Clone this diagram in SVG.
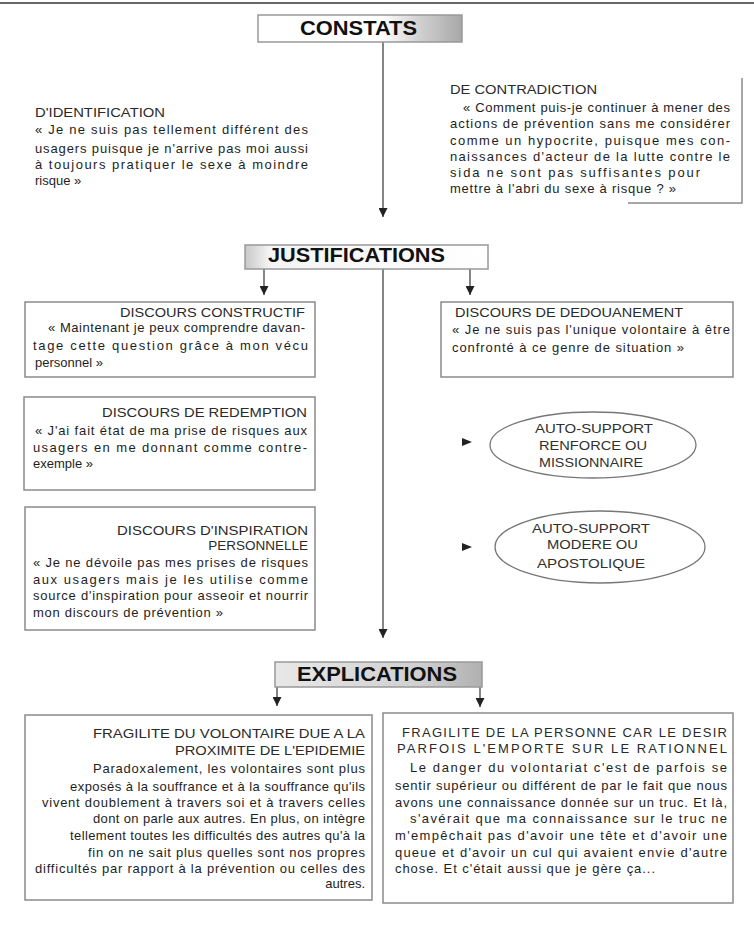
<svg xmlns="http://www.w3.org/2000/svg" width="754" height="926" viewBox="0 0 754 926">
<defs>
<style>
.t{font-family:"Liberation Sans",Arial,sans-serif;font-size:13px;fill:#1e1e1e}
.h{font-family:"Liberation Sans",Arial,sans-serif;font-size:13px;fill:#2a2a2a}
.e{font-family:"Liberation Sans",Arial,sans-serif;font-size:13.5px;fill:#303030}
.big{font-family:"Liberation Sans",Arial,sans-serif;font-weight:bold;font-size:20px;fill:#111}
.box{fill:#fff;stroke:#8a8a8a;stroke-width:1.5}
.ell{fill:none;stroke:#777;stroke-width:1.3}
.con{stroke:#666;stroke-width:1.6;fill:none}
.ah{fill:#222}
</style>
<linearGradient id="gC" x1="0" y1="0" x2="1" y2="0">
<stop offset="0" stop-color="#fff"/><stop offset="0.6" stop-color="#fff"/><stop offset="0.8" stop-color="#cfcfcf"/><stop offset="1" stop-color="#a8a8a8"/>
</linearGradient>
<linearGradient id="gJ" x1="0" y1="0" x2="1" y2="0">
<stop offset="0" stop-color="#c8c8c8"/><stop offset="0.1" stop-color="#f4f4f4"/><stop offset="1" stop-color="#fff"/>
</linearGradient>
<linearGradient id="gE" x1="0" y1="0" x2="1" y2="0">
<stop offset="0" stop-color="#e8e8e8"/><stop offset="0.7" stop-color="#d0d0d0"/><stop offset="1" stop-color="#b0b0b0"/>
</linearGradient>
<marker id="arr" viewBox="0 0 10 10" refX="10" refY="5" markerWidth="9" markerHeight="9" markerUnits="userSpaceOnUse" orient="auto">
<path d="M0,0 L10,5 L0,10 z" fill="#222"/>
</marker>
</defs>
<rect width="754" height="926" fill="#fff"/>
<line x1="0" y1="3" x2="754" y2="3" stroke="#333" stroke-width="1.5"/>

<g id="connectors">
<line class="con" x1="383" y1="42" x2="383" y2="217" marker-end="url(#arr)"/>
<line class="con" x1="264" y1="269" x2="264" y2="295" marker-end="url(#arr)"/>
<line class="con" x1="470" y1="269" x2="470" y2="295" marker-end="url(#arr)"/>
<line class="con" x1="383" y1="269" x2="383" y2="638" marker-end="url(#arr)"/>
<line class="con" x1="277" y1="687" x2="277" y2="706" marker-end="url(#arr)"/>
<line class="con" x1="480" y1="687" x2="480" y2="707" marker-end="url(#arr)"/>
<path class="ah" d="M462,438 L472,442 L462,446 z"/>
<path class="ah" d="M462,543 L472,547 L462,551 z"/>
</g>

<g id="constats">
<rect x="258" y="15" width="204" height="27" fill="url(#gC)" stroke="#999" stroke-width="1.5"/>
<text class="big" x="300" y="35" textLength="117" lengthAdjust="spacingAndGlyphs">CONSTATS</text>
</g>

<g id="identification">
<text class="h" x="35" y="117" textLength="130" lengthAdjust="spacingAndGlyphs">D'IDENTIFICATION</text>
<text class="t" x="35" y="134" textLength="273" lengthAdjust="spacing">« Je ne suis pas tellement différent des</text>
<text class="t" x="35" y="153" textLength="273" lengthAdjust="spacing">usagers puisque je n'arrive pas moi aussi</text>
<text class="t" x="35" y="169" textLength="273" lengthAdjust="spacing">à toujours pratiquer le sexe à moindre</text>
<text class="t" x="35" y="185">risque »</text>
</g>

<g id="contradiction">
<polyline points="742,78 742,203 628,203" fill="none" stroke="#8a8a8a" stroke-width="1.5"/>
<text class="h" x="450" y="94" textLength="147" lengthAdjust="spacingAndGlyphs">DE CONTRADICTION</text>
<text class="t" x="463" y="112" textLength="267" lengthAdjust="spacing">« Comment puis-je continuer à mener des</text>
<text class="t" x="450" y="128" textLength="280" lengthAdjust="spacing">actions de prévention sans me considérer</text>
<text class="t" x="450" y="145" textLength="280" lengthAdjust="spacing">comme un hypocrite, puisque mes con-</text>
<text class="t" x="450" y="161" textLength="280" lengthAdjust="spacing">naissances d'acteur de la lutte contre le</text>
<text class="t" x="450" y="177" textLength="250" lengthAdjust="spacing">sida ne sont pas suffisantes pour</text>
<text class="t" x="450" y="193" textLength="226" lengthAdjust="spacing">mettre à l'abri du sexe à risque ? »</text>
</g>

<g id="justifications">
<rect x="245" y="245" width="243" height="24" fill="url(#gJ)" stroke="#999" stroke-width="1.5"/>
<text class="big" x="268" y="262" textLength="177" lengthAdjust="spacingAndGlyphs">JUSTIFICATIONS</text>
</g>

<g id="constructif">
<rect class="box" x="25" y="302" width="290" height="75"/>
<text class="h" x="120" y="317" textLength="185" lengthAdjust="spacingAndGlyphs">DISCOURS CONSTRUCTIF</text>
<text class="t" x="48" y="332" textLength="257" lengthAdjust="spacing">« Maintenant je peux comprendre davan-</text>
<text class="t" x="33" y="350" textLength="275" lengthAdjust="spacing">tage cette question grâce à mon vécu</text>
<text class="t" x="35" y="367">personnel »</text>
</g>

<g id="dedouanement">
<rect class="box" x="441" y="302" width="292" height="75"/>
<text class="h" x="455" y="317" textLength="228" lengthAdjust="spacingAndGlyphs">DISCOURS DE DEDOUANEMENT</text>
<text class="t" x="452" y="334" textLength="278" lengthAdjust="spacing">« Je ne suis pas l'unique volontaire à être</text>
<text class="t" x="452" y="352" textLength="232" lengthAdjust="spacing">confronté à ce genre de situation »</text>
</g>

<g id="redemption">
<rect class="box" x="24" y="397" width="291" height="93"/>
<text class="h" x="102" y="417" textLength="205" lengthAdjust="spacingAndGlyphs">DISCOURS DE REDEMPTION</text>
<text class="t" x="35" y="435" textLength="272" lengthAdjust="spacing">« J'ai fait état de ma prise de risques aux</text>
<text class="t" x="33" y="452" textLength="274" lengthAdjust="spacing">usagers en me donnant comme contre-</text>
<text class="t" x="33" y="468">exemple »</text>
</g>

<g id="inspiration">
<rect class="box" x="25" y="507" width="290" height="123"/>
<text class="h" x="117" y="535" textLength="191" lengthAdjust="spacingAndGlyphs">DISCOURS D'INSPIRATION</text>
<text class="h" x="308" y="550" text-anchor="end" style="font-size:13.5px">PERSONNELLE</text>
<text class="t" x="33" y="567" textLength="275" lengthAdjust="spacing">« Je ne dévoile pas mes prises de risques</text>
<text class="t" x="33" y="584" textLength="275" lengthAdjust="spacing">aux usagers mais je les utilise comme</text>
<text class="t" x="33" y="600" textLength="275" lengthAdjust="spacing">source d'inspiration pour asseoir et nourrir</text>
<text class="t" x="33" y="617" textLength="190" lengthAdjust="spacing">mon discours de prévention »</text>
</g>

<g id="missionnaire">
<ellipse class="ell" cx="593" cy="445" rx="103" ry="33"/>
<text class="e" x="535" y="433" textLength="118" lengthAdjust="spacingAndGlyphs">AUTO-SUPPORT</text>
<text class="e" x="539" y="450" textLength="108" lengthAdjust="spacingAndGlyphs">RENFORCE OU</text>
<text class="e" x="539" y="467" textLength="104" lengthAdjust="spacingAndGlyphs">MISSIONNAIRE</text>
</g>

<g id="apostolique">
<ellipse class="ell" cx="600" cy="547" rx="105" ry="36"/>
<text class="e" x="532" y="533" textLength="118" lengthAdjust="spacingAndGlyphs">AUTO-SUPPORT</text>
<text class="e" x="547" y="549" textLength="91" lengthAdjust="spacingAndGlyphs">MODERE OU</text>
<text class="e" x="537" y="568" textLength="108" lengthAdjust="spacingAndGlyphs">APOSTOLIQUE</text>
</g>

<g id="explications">
<rect x="275" y="662" width="207" height="25" fill="url(#gE)" stroke="#999" stroke-width="1.5"/>
<text class="big" x="297" y="681" textLength="160" lengthAdjust="spacingAndGlyphs">EXPLICATIONS</text>
</g>

<g id="fragilite-volontaire">
<rect class="box" x="25" y="715" width="347" height="185"/>
<text class="h" x="93" y="738" textLength="272" lengthAdjust="spacingAndGlyphs">FRAGILITE DU VOLONTAIRE DUE A LA</text>
<text class="h" x="175" y="755" textLength="190" lengthAdjust="spacingAndGlyphs">PROXIMITE DE L'EPIDEMIE</text>
<text class="t" x="93" y="773" textLength="272" lengthAdjust="spacing">Paradoxalement, les volontaires sont plus</text>
<text class="t" x="70" y="791" textLength="295" lengthAdjust="spacing">exposés à la souffrance et à la souffrance qu'ils</text>
<text class="t" x="42" y="807" textLength="323" lengthAdjust="spacing">vivent doublement à travers soi et à travers celles</text>
<text class="t" x="93" y="823" textLength="272" lengthAdjust="spacing">dont on parle aux autres. En plus, on intègre</text>
<text class="t" x="70" y="840" textLength="295" lengthAdjust="spacing">tellement toutes les difficultés des autres qu'à la</text>
<text class="t" x="88" y="857" textLength="277" lengthAdjust="spacing">fin on ne sait plus quelles sont nos propres</text>
<text class="t" x="35" y="873" textLength="330" lengthAdjust="spacing">difficultés par rapport à la prévention ou celles des</text>
<text class="t" x="365" y="888" text-anchor="end">autres.</text>
</g>

<g id="fragilite-personne">
<rect class="box" x="383" y="713" width="350" height="190"/>
<text class="h" x="402" y="737" textLength="325" lengthAdjust="spacing">FRAGILITE DE LA PERSONNE CAR LE DESIR</text>
<text class="h" x="397" y="753" textLength="330" lengthAdjust="spacing">PARFOIS L'EMPORTE SUR LE RATIONNEL</text>
<text class="t" x="410" y="772" textLength="317" lengthAdjust="spacing">Le danger du volontariat c'est de parfois se</text>
<text class="t" x="395" y="790" textLength="332" lengthAdjust="spacing">sentir supérieur ou différent de par le fait que nous</text>
<text class="t" x="395" y="807" textLength="332" lengthAdjust="spacing">avons une connaissance donnée sur un truc. Et là,</text>
<text class="t" x="410" y="823" textLength="317" lengthAdjust="spacing">s'avérait que ma connaissance sur le truc ne</text>
<text class="t" x="395" y="840" textLength="332" lengthAdjust="spacing">m'empêchait pas d'avoir une tête et d'avoir une</text>
<text class="t" x="395" y="857" textLength="332" lengthAdjust="spacing">queue et d'avoir un cul qui avaient envie d'autre</text>
<text class="t" x="395" y="873" textLength="260" lengthAdjust="spacing">chose. Et c'était aussi que je gère ça...</text>
</g>
</svg>
